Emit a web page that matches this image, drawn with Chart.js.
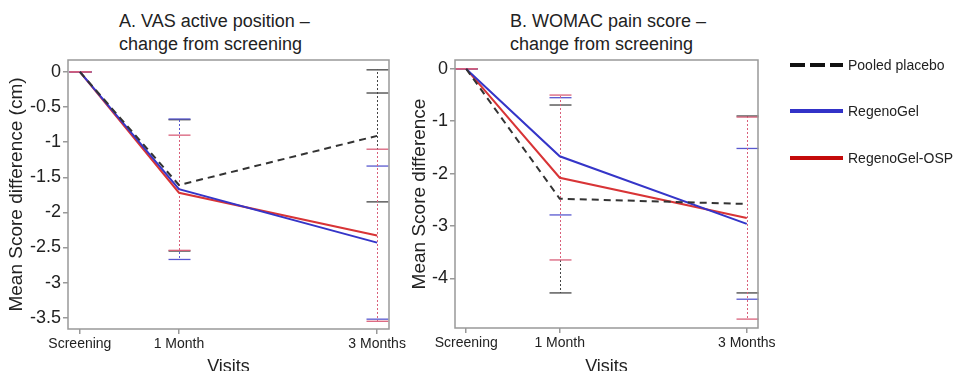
<!DOCTYPE html>
<html>
<head>
<meta charset="utf-8">
<script src="https://cdn.jsdelivr.net/npm/chart.js@4.4.1/dist/chart.umd.min.js"></script>
<style>
html, body { margin:0; padding:0; background:#fff; width:955px; height:371px; overflow:hidden;
             font-family:"Liberation Sans", Arial, sans-serif; }
.panel { position:absolute; top:0; height:390px; }
#panelA { left:0; width:420px; }
#panelB { left:398px; width:557px; }
.title { position:absolute; font-size:18px; line-height:23px; color:#222; white-space:nowrap; }
.legend { position:absolute; left:790px; font-size:14px; color:#222; }
.legend div { position:absolute; left:0; height:19px; white-space:nowrap; }
.legend span.key { position:absolute; left:0; top:7px; width:53px; height:4px; }
.legend span.lbl { position:absolute; left:58px; top:0; line-height:19px; }
</style>
</head>
<body>

<div class="title" style="left:119px; top:10px;">A. VAS active position –<br>change from screening</div>
<div class="title" style="left:510px; top:10px;">B. WOMAC pain score –<br>change from screening</div>

<div class="panel" id="panelA"><canvas id="chartA" width="420" height="390"></canvas></div>
<div class="panel" id="panelB"><canvas id="chartB" width="557" height="390"></canvas></div>

<div class="legend" style="top:0;">
    <div style="top:56px;"><span class="key" style="background:repeating-linear-gradient(90deg,#111 0 15px,transparent 15px 20px);"></span><span class="lbl">Pooled placebo</span></div>
    <div style="top:102px;"><span class="key" style="background:#3232c8;"></span><span class="lbl">RegenoGel</span></div>
    <div style="top:149px;"><span class="key" style="background:#c40a0a;"></span><span class="lbl">RegenoGel-OSP</span></div>
</div>

<script>
// visits (x in months)
const visits      = ["Screening", "1 Month", "3 Months"];
const visitMonths = [0, 1, 3];

// Panel A - VAS active position (cm)
const placeboA   = [0, -1.61, -0.91];
const placeboALo = [0, -2.55, -1.85];
const placeboAHi = [0, -0.68,  0.03];
const placeboAExtra = [null, null, -0.30];
const regenoA    = [0, -1.67, -2.43];
const regenoALo  = [0, -2.67, -3.52];
const regenoAHi  = [0, -0.67, -1.34];
const ospA       = [0, -1.72, -2.33];
const ospALo     = [0, -2.54, -3.55];
const ospAHi     = [0, -0.90, -1.10];
const yTicksA    = [0, -0.5, -1, -1.5, -2, -2.5, -3, -3.5];

// Panel B - WOMAC pain score
const placeboB   = [0, -2.48, -2.58];
const placeboBLo = [0, -4.28, -4.28];
const placeboBHi = [0, -0.69, -0.90];
const regenoB    = [0, -1.67, -2.96];
const regenoBLo  = [0, -2.79, -4.40];
const regenoBHi  = [0, -0.55, -1.52];
const ospB       = [0, -2.08, -2.85];
const ospBLo     = [0, -3.65, -4.78];
const ospBHi     = [0, -0.50, -0.92];
const yTicksB    = [0, -1, -2, -3, -4];

const BLUE = "#3535c8";
const RED  = "#d83436";
const GREY = "#999";

const toPoints = arr => arr.map((v, i) => ({ x: visitMonths[i], y: v }));

// error bars drawn through the chart scales
const errorBarPlugin = {
    id: "errorBars",
    beforeDatasetsDraw(chart, args, opts){
        const { ctx, scales: { x, y } } = chart;
        ctx.save();
        opts.bars.forEach(b => {
            visitMonths.forEach((m, i) => {
                const px  = Math.round(x.getPixelForValue(m)) + 0.5;
                const yLo = y.getPixelForValue(b.lo[i]);
                const yHi = y.getPixelForValue(b.hi[i]);
                ctx.strokeStyle = b.color;
                ctx.lineWidth = 1;
                // keep the dot pattern on a common phase so the last colour sits on top
                ctx.setLineDash([2, 2]);
                ctx.lineDashOffset = yHi % 4;
                ctx.beginPath(); ctx.moveTo(px, yHi); ctx.lineTo(px, yLo); ctx.stroke();
                ctx.setLineDash([]);
                ctx.lineWidth = 1.3;
                const caps = [yLo, yHi];
                if(b.extra && b.extra[i] !== null) caps.push(y.getPixelForValue(b.extra[i]));
                caps.forEach(py => {
                    ctx.beginPath(); ctx.moveTo(px - 11, py); ctx.lineTo(px + 11, py); ctx.stroke();
                });
            });
        });
        ctx.restore();
    }
};

const framePlugin = {
    id: "frame",
    afterDraw(chart){
        const { ctx, chartArea: a } = chart;
        ctx.save();
        ctx.strokeStyle = GREY;
        ctx.lineWidth = 1.5;
        ctx.strokeRect(a.left, a.top, a.right - a.left, a.bottom - a.top);
        ctx.restore();
    }
};

function buildChart(id, cfg){
    return new Chart(document.getElementById(id), {
        type: "line",
        data: {
            datasets: [
                { label: "Pooled placebo", data: toPoints(cfg.placebo), borderColor: "#333",
                  borderDash: [7, 5], borderWidth: 2, pointRadius: 0, tension: 0 },
                { label: "RegenoGel", data: toPoints(cfg.regeno), borderColor: BLUE,
                  borderWidth: 2, pointRadius: 0, tension: 0 },
                { label: "RegenoGel-OSP", data: toPoints(cfg.osp), borderColor: RED,
                  borderWidth: 2, pointRadius: 0, tension: 0 }
            ]
        },
        options: {
            responsive: false,
            animation: false,
            layout: { padding: { left: 0, right: cfg.padRight, top: 60, bottom: 0 } },
            plugins: {
                legend:  { display: false },
                tooltip: { enabled: false },
                errorBars: { bars: cfg.bars }
            },
            scales: {
                x: {
                    type: "linear",
                    min: -0.12, max: 3.12,
                    afterBuildTicks: s => { s.ticks = visitMonths.map(v => ({ value: v })); },
                    afterFit: s => { s.height = 390 - cfg.bottom; },
                    ticks: {
                        autoSkip: false, maxRotation: 0, padding: 2,
                        color: "#222", font: { size: 14, family: "Liberation Sans" },
                        callback: v => visits[visitMonths.indexOf(v)]
                    },
                    grid:   { drawOnChartArea: false, drawTicks: true, tickLength: 5, color: GREY, lineWidth: 1.5 },
                    border: { display: false },
                    title:  { display: true, text: "Visits", color: "#222",
                              font: { size: 18, family: "Liberation Sans" }, padding: { top: 0, bottom: 12 } }
                },
                y: {
                    min: cfg.yMin, max: cfg.yMax,
                    afterBuildTicks: s => { s.ticks = cfg.yTicks.map(v => ({ value: v })); },
                    afterFit: s => { s.width = cfg.yWidth; },
                    ticks: {
                        padding: 2, color: "#222", font: { size: 18, family: "Liberation Sans" },
                        callback: v => String(v)
                    },
                    grid:   { drawOnChartArea: false, drawTicks: true, tickLength: 5, color: GREY, lineWidth: 1.5 },
                    border: { display: false },
                    title:  { display: true, text: cfg.yTitle, color: "#222",
                              font: { size: 19, family: "Liberation Sans" }, padding: { top: cfg.yTitlePad, bottom: 0 } }
                }
            }
        },
        plugins: [errorBarPlugin, framePlugin]
    });
}

buildChart("chartA", {
    placebo: placeboA, regeno: regenoA, osp: ospA,
    yMin: -3.66, yMax: 0.17, yTicks: yTicksA, yWidth: 68, yTitlePad: 5,
    yTitle: "Mean Score difference (cm)", padRight: 31, bottom: 329,
    bars: [
        { lo: placeboALo, hi: placeboAHi, extra: placeboAExtra, color: "#444" },
        { lo: regenoALo,  hi: regenoAHi,  color: "#5858cf" },
        { lo: ospALo,     hi: ospAHi,     color: "#d9607a" }
    ]
});

buildChart("chartB", {
    placebo: placeboB, regeno: regenoB, osp: ospB,
    yMin: -4.95, yMax: 0.17, yTicks: yTicksB, yWidth: 57, yTitlePad: 10,
    yTitle: "Mean Score difference", padRight: 197, bottom: 328,
    bars: [
        { lo: placeboBLo, hi: placeboBHi, color: "#444" },
        { lo: regenoBLo,  hi: regenoBHi,  color: "#5858cf" },
        { lo: ospBLo,     hi: ospBHi,     color: "#d9607a" }
    ]
});
</script>
</body>
</html>
